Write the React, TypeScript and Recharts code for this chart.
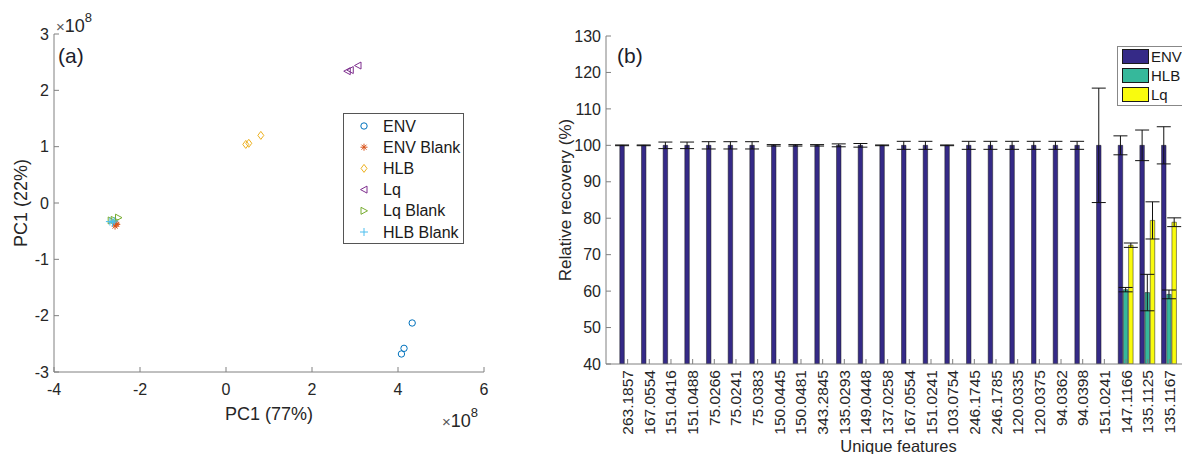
import React from 'react';
import { ScatterChart, Scatter, XAxis, YAxis, BarChart, Bar, ErrorBar } from 'recharts';

// ---------------------------------------------------------------------------
// Data
// ---------------------------------------------------------------------------

// (a) PCA scores, both axes in units of 1e8
const envPts = [{ x: 4.33, y: -2.13 }, { x: 4.14, y: -2.58 }, { x: 4.08, y: -2.68 }];
const envBlankPts = [{ x: -2.54, y: -0.38 }, { x: -2.58, y: -0.41 }, { x: -2.56, y: -0.36 }];
const hlbPts = [{ x: 0.46, y: 1.04 }, { x: 0.53, y: 1.06 }, { x: 0.81, y: 1.2 }];
const lqPts = [{ x: 2.82, y: 2.34 }, { x: 2.89, y: 2.36 }, { x: 3.07, y: 2.44 }];
const lqBlankPts = [{ x: -2.5, y: -0.26 }, { x: -2.67, y: -0.31 }, { x: -2.6, y: -0.3 }];
const hlbBlankPts = [{ x: -2.7, y: -0.33 }, { x: -2.64, y: -0.35 }, { x: -2.6, y: -0.32 }];

const pcaXTicks = [-4, -2, 0, 2, 4, 6];
const pcaYTicks = [-3, -2, -1, 0, 1, 2, 3];

// (b) relative recovery per feature
const features = [
  '263.1857', '167.0554', '151.0416', '151.0488', '75.0266', '75.0241', '75.0383',
  '150.0445', '150.0481', '343.2845', '135.0293', '149.0448', '137.0258', '167.0554',
  '151.0241', '103.0754', '246.1745', '246.1785', '120.0335', '120.0375', '94.0362',
  '94.0398', '151.0241', '147.1166', '135.1125', '135.1167',
];
const envValues = [
  100, 100, 100, 100, 100, 100, 100, 100, 100, 100, 100, 100, 100,
  100, 100, 100, 100, 100, 100, 100, 100, 100, 100, 100, 100, 100,
];
const envErr = [
  0.1, 0.1, 0.9, 0.9, 1.0, 1.0, 1.0, 0.2, 0.2, 0.2, 0.4, 0.5, 0.1,
  1.1, 1.1, 0.1, 1.1, 1.1, 1.1, 1.1, 1.1, 1.1, 15.7, 2.6, 4.2, 5.1,
];
const hlbValues: (number | null)[] = [
  null, null, null, null, null, null, null, null, null, null, null, null, null,
  null, null, null, null, null, null, null, null, null, null, 60.4, 59.6, 59.1,
];
const hlbErr: (number | null)[] = [
  null, null, null, null, null, null, null, null, null, null, null, null, null,
  null, null, null, null, null, null, null, null, null, null, 0.6, 5.0, 1.2,
];
const lqValues: (number | null)[] = [
  null, null, null, null, null, null, null, null, null, null, null, null, null,
  null, null, null, null, null, null, null, null, null, null, 72.6, 79.4, 78.9,
];
const lqErr: (number | null)[] = [
  null, null, null, null, null, null, null, null, null, null, null, null, null,
  null, null, null, null, null, null, null, null, null, null, 0.6, 5.1, 1.2,
];
const recoveryTicks = [40, 50, 60, 70, 80, 90, 100, 110, 120, 130];

// ---------------------------------------------------------------------------
// Styling
// ---------------------------------------------------------------------------

const FONT = '"Liberation Sans", Arial, sans-serif';
const AXIS = '#808080';
const TXT = '#262626';

const C_ENV = '#0072BD';
const C_ENVB = '#D95319';
const C_HLB = '#EDB120';
const C_LQ = '#7E2F8E';
const C_LQB = '#77AC30';
const C_HLBB = '#4DBEEE';

const BAR_ENV = '#352a87';
const BAR_HLB = '#36b89b';
const BAR_LQ = '#f9fb0e';

type MarkerKind = 'circle' | 'star' | 'diamond' | 'triLeft' | 'triRight' | 'plus';

function drawMarker(kind: MarkerKind, color: string, cx: number, cy: number) {
  const common = { fill: 'none', stroke: color, strokeWidth: 1 };
  switch (kind) {
    case 'circle':
      return <circle cx={cx} cy={cy} r={3.2} {...common} />;
    case 'star':
      return (
        <g {...common}>
          <line x1={cx - 3.5} y1={cy} x2={cx + 3.5} y2={cy} />
          <line x1={cx} y1={cy - 3.5} x2={cx} y2={cy + 3.5} />
          <line x1={cx - 2.5} y1={cy - 2.5} x2={cx + 2.5} y2={cy + 2.5} />
          <line x1={cx - 2.5} y1={cy + 2.5} x2={cx + 2.5} y2={cy - 2.5} />
        </g>
      );
    case 'diamond':
      return <polygon points={`${cx},${cy - 4} ${cx + 3},${cy} ${cx},${cy + 4} ${cx - 3},${cy}`} {...common} />;
    case 'triLeft':
      return <polygon points={`${cx - 3.5},${cy} ${cx + 3},${cy - 3.5} ${cx + 3},${cy + 3.5}`} {...common} />;
    case 'triRight':
      return <polygon points={`${cx + 3.5},${cy} ${cx - 3},${cy - 3.5} ${cx - 3},${cy + 3.5}`} {...common} />;
    default:
      return (
        <g {...common}>
          <line x1={cx - 4} y1={cy} x2={cx + 4} y2={cy} />
          <line x1={cx} y1={cy - 4} x2={cx} y2={cy + 4} />
        </g>
      );
  }
}

const shapeOf = (kind: MarkerKind, color: string) => (p: any) => drawMarker(kind, color, p.cx, p.cy);

const pcaSeries: { name: string; data: { x: number; y: number }[]; kind: MarkerKind; color: string }[] = [
  { name: 'ENV', data: envPts, kind: 'circle', color: C_ENV },
  { name: 'ENV Blank', data: envBlankPts, kind: 'star', color: C_ENVB },
  { name: 'HLB', data: hlbPts, kind: 'diamond', color: C_HLB },
  { name: 'Lq', data: lqPts, kind: 'triLeft', color: C_LQ },
  { name: 'Lq Blank', data: lqBlankPts, kind: 'triRight', color: C_LQB },
  { name: 'HLB Blank', data: hlbBlankPts, kind: 'plus', color: C_HLBB },
];

const barData = features.map((f, i) => ({
  feature: f,
  env: envValues[i],
  envErr: envErr[i],
  hlb: hlbValues[i],
  hlbErr: hlbErr[i],
  lq: lqValues[i],
  lqErr: lqErr[i],
}));

const tickStyle = { fontSize: 16, fill: TXT, fontFamily: FONT };

const FeatureTick = (props: any) => {
  const { x, y, payload } = props;
  return (
    <text
      x={x}
      y={y}
      transform={`rotate(-90, ${x}, ${y})`}
      textAnchor="end"
      dominantBaseline="central"
      fontSize={15.5}
      fill={TXT}
      fontFamily={FONT}
    >
      {payload.value}
    </text>
  );
};

// ---------------------------------------------------------------------------
// Panels
// ---------------------------------------------------------------------------

const PcaPanel = () => (
  <ScatterChart width={500} height={454} margin={{ top: 34, right: 16, bottom: 0, left: 0 }}>
    <XAxis
      type="number"
      dataKey="x"
      domain={[-4, 6]}
      ticks={pcaXTicks}
      allowDataOverflow
      height={82}
      stroke={AXIS}
      tickSize={-5}
      tickMargin={17}
      tick={tickStyle}
      label={{ value: 'PC1 (77%)', position: 'insideBottom', offset: 34, fontSize: 18, fill: TXT, fontFamily: FONT }}
    />
    <XAxis
      xAxisId="top"
      orientation="top"
      type="number"
      dataKey="x"
      domain={[-4, 6]}
      ticks={pcaXTicks}
      allowDataOverflow
      height={0}
      stroke={AXIS}
      tickSize={-5}
      tick={false}
    />
    <YAxis
      type="number"
      dataKey="y"
      domain={[-3, 3]}
      ticks={pcaYTicks}
      allowDataOverflow
      width={54}
      stroke={AXIS}
      tickSize={-5}
      tickMargin={10}
      tick={tickStyle}
      label={{ value: 'PC1 (22%)', angle: -90, position: 'insideLeft', offset: 21, fontSize: 18, fill: TXT, fontFamily: FONT, style: { textAnchor: 'middle' } }}
    />
    <YAxis
      yAxisId="right"
      orientation="right"
      type="number"
      dataKey="y"
      domain={[-3, 3]}
      ticks={pcaYTicks}
      allowDataOverflow
      width={0}
      stroke={AXIS}
      tickSize={-5}
      tick={false}
    />
    {pcaSeries.map((s) => (
      <Scatter key={s.name} name={s.name} data={s.data} shape={shapeOf(s.kind, s.color)} isAnimationActive={false} />
    ))}
  </ScatterChart>
);

const RecoveryPanel = () => (
  <BarChart
    width={660}
    height={454}
    data={barData}
    margin={{ top: 36, right: 9, bottom: 0, left: 0 }}
    barSize={4.5}
    barGap={0.7}
  >
    <XAxis
      dataKey="feature"
      padding={{ left: 10.8, right: 10.8 }}
      height={90}
      stroke={AXIS}
      tickSize={-5}
      tickMargin={11}
      interval={0}
      tick={<FeatureTick />}
      label={{ value: 'Unique features', position: 'insideBottom', offset: 2, fontSize: 16.5, fill: TXT, fontFamily: FONT }}
    />
    <XAxis
      xAxisId="top"
      orientation="top"
      dataKey="feature"
      padding={{ left: 10.8, right: 10.8 }}
      height={0}
      stroke={AXIS}
      tickSize={-5}
      interval={0}
      tick={false}
    />
    <YAxis
      type="number"
      domain={[40, 130]}
      ticks={recoveryTicks}
      allowDataOverflow
      width={66}
      stroke={AXIS}
      tickSize={-5}
      tickMargin={10}
      tick={tickStyle}
      label={{ value: 'Relative recovery (%)', angle: -90, position: 'insideLeft', offset: 25, fontSize: 17, fill: TXT, fontFamily: FONT, style: { textAnchor: 'middle' } }}
    />
    <Bar dataKey="env" fill={BAR_ENV} stroke="#1a1a1a" strokeWidth={0.5} isAnimationActive={false}>
      <ErrorBar dataKey="envErr" width={7} stroke="#111" strokeWidth={1} direction="y" />
    </Bar>
    <Bar dataKey="hlb" fill={BAR_HLB} stroke="#1a1a1a" strokeWidth={0.5} isAnimationActive={false}>
      <ErrorBar dataKey="hlbErr" width={7} stroke="#111" strokeWidth={1} direction="y" />
    </Bar>
    <Bar dataKey="lq" fill={BAR_LQ} stroke="#1a1a1a" strokeWidth={0.5} isAnimationActive={false}>
      <ErrorBar dataKey="lqErr" width={7} stroke="#111" strokeWidth={1} direction="y" />
    </Bar>
  </BarChart>
);

// annotations + legends drawn on top of both panels
const Overlay = () => (
  <svg width={1182} height={454} style={{ position: 'absolute', left: 0, top: 0, pointerEvents: 'none' }}>
    <g fontFamily={FONT} fill={TXT}>
      <text x={56} y={31.5} fontSize={18}>
        <tspan fontSize={15} fill="#555">×</tspan>10<tspan dy={-10} fontSize={13}>8</tspan>
      </text>
      <text x={442} y={427} fontSize={18}>
        <tspan fontSize={15} fill="#555">×</tspan>10<tspan dy={-10} fontSize={13}>8</tspan>
      </text>
      <text x={58} y={63} fontSize={21} fill="#1c1c2c">(a)</text>
      <text x={617} y={63} fontSize={21} fill="#1c1c2c">(b)</text>
    </g>

    {/* legend (a) */}
    <rect x={343.5} y={113.5} width={120} height={130} fill="#fff" stroke="#555" strokeWidth={1} />
    {pcaSeries.map((s, i) => (
      <g key={s.name}>
        {drawMarker(s.kind, s.color, 364, 126 + i * 21.2)}
        <text x={383} y={126 + i * 21.2} dominantBaseline="central" fontSize={16} fill="#1a1a1a" fontFamily={FONT}>
          {s.name}
        </text>
      </g>
    ))}

    {/* legend (b) */}
    <rect x={1117.5} y={46.5} width={75} height={59} fill="#fff" stroke="#888" strokeWidth={1} />
    {[
      { name: 'ENV', color: BAR_ENV },
      { name: 'HLB', color: BAR_HLB },
      { name: 'Lq', color: BAR_LQ },
    ].map((e, i) => (
      <g key={e.name}>
        <rect x={1122.5} y={49.5 + i * 19} width={26} height={14} fill={e.color} stroke="#1a1a1a" strokeWidth={1} />
        <text x={1151} y={56.5 + i * 19} dominantBaseline="central" fontSize={15} fill="#1a1a1a" fontFamily={FONT}>
          {e.name}
        </text>
      </g>
    ))}
  </svg>
);

export default function App() {
  return (
    <div
      style={{
        position: 'fixed',
        left: 0,
        top: 0,
        width: 1182,
        height: 454,
        overflow: 'hidden',
        background: '#fff',
        fontFamily: FONT,
      }}
    >
      <div style={{ position: 'absolute', left: 0, top: 0 }}>
        <PcaPanel />
      </div>
      <div style={{ position: 'absolute', left: 540, top: 0 }}>
        <RecoveryPanel />
      </div>
      <Overlay />
    </div>
  );
}
